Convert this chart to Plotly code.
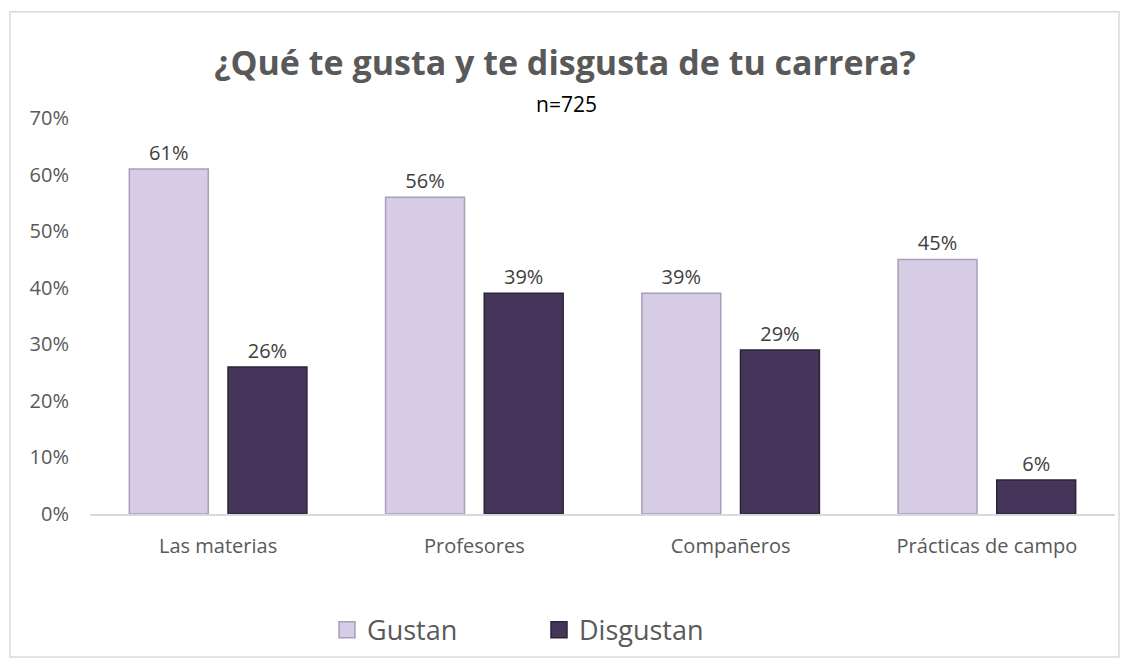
import plotly.graph_objects as go

categories = ["Las materias", "Profesores", "Compañeros", "Prácticas de campo"]
gustan = [0.61, 0.56, 0.39, 0.45]
disgustan = [0.26, 0.39, 0.29, 0.06]
y_ticks = [0, 0.1, 0.2, 0.3, 0.4, 0.5, 0.6, 0.7]

W, H = 1130, 666
L, R, T, B = 90, 15, 118, 149
font = "'Open Sans', sans-serif"
grey = "#595959"
light, light_edge = "#D6CCE5", "#A99EB8"
dark, dark_edge = "#46355A", "#2E2238"


def px_x(p):
    return (p - L) / (W - L - R)


def px_y(p):
    return (H - B - p) / (H - T - B)


fig = go.Figure()
for name, vals, col, edge in [("Gustan", gustan, light, light_edge),
                              ("Disgustan", disgustan, dark, dark_edge)]:
    fig.add_trace(go.Bar(
        x=categories, y=vals, name=name, showlegend=False,
        marker=dict(color=col, line=dict(color=edge, width=1.5)),
        text=[f"{v:.0%}" for v in vals], textposition="outside",
        textfont=dict(size=20, color="#404040"), cliponaxis=False,
    ))
for name, col, edge in [("Gustan", light, light_edge),
                        ("Disgustan", dark, dark_edge)]:
    # legend-only entries so the legend squares can be sized like the original
    fig.add_trace(go.Scatter(
        x=[categories[0]], y=[None], name=name, mode="markers",
        marker=dict(symbol="square", size=18, color=col,
                    line=dict(color=edge, width=1.5)),
    ))

fig.update_layout(
    width=W, height=H,
    margin=dict(l=L, r=R, t=T, b=B),
    paper_bgcolor="white", plot_bgcolor="white",
    font=dict(family=font, color=grey),
    barmode="group", bargap=0.23, bargroupgap=0.2,
    title=dict(text="<b>¿Qué te gusta y te disgusta de tu carrera?</b>",
               x=0.5, xanchor="center", y=1 - 63 / H, yanchor="middle",
               font=dict(size=34, color=grey)),
    legend=dict(orientation="h", x=px_x(327), xanchor="left",
                y=px_y(634), yanchor="middle",
                font=dict(size=27, color=grey), itemwidth=30,
                entrywidth=167, itemsizing="trace"),
    showlegend=True,
)
fig.update_xaxes(showline=True, linecolor="#D9D9D9", linewidth=2,
                 ticks="", tickfont=dict(size=20, color=grey),
                 ticklabelstandoff=13)
fig.update_yaxes(range=[0, 0.7], tickvals=y_ticks, tickformat=".0%",
                 showgrid=False, zeroline=False, showline=False,
                 tickfont=dict(size=20, color=grey), ticklabelstandoff=20)

fig.add_annotation(text="n=725", xref="paper", yref="paper",
                   x=px_x(566), y=px_y(88), showarrow=False,
                   font=dict(size=21, color="#000000"))
fig.add_shape(type="rect", xref="paper", yref="paper",
              x0=px_x(10), x1=px_x(1119), y0=px_y(661), y1=px_y(11),
              line=dict(color="#D9D9D9", width=1.5), layer="below")

fig.write_html("out.html", config={"displayModeBar": False},
               post_script="document.body.style.margin='0';")
